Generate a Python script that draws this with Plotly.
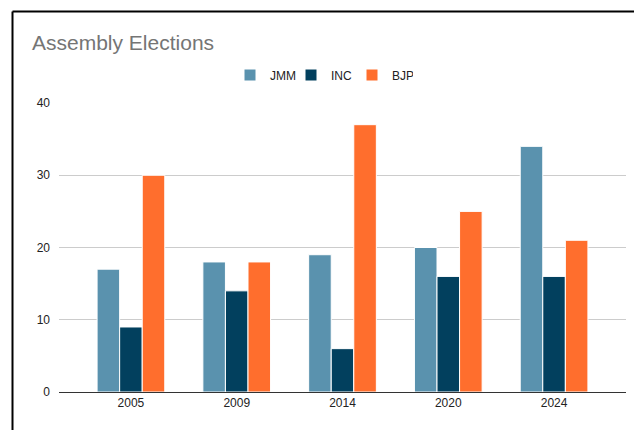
import plotly.graph_objects as go

years = ["2005", "2009", "2014", "2020", "2024"]
jmm = [17, 18, 19, 20, 34]
inc = [9, 14, 6, 16, 16]
bjp = [30, 18, 37, 25, 21]

W, H = 634, 430
L, R, T, B = 59, 8, 103, 38
pw, ph = W - L - R, H - T - B

def px_x(x):
    return (x - L) / pw

def px_y(y):
    return (H - B - y) / ph

font = "Liberation Sans, Arial, sans-serif"
fig = go.Figure()
for name, vals, col in [("JMM", jmm, "#5a92ae"), ("INC", inc, "#02405e"), ("BJP", bjp, "#ff6e2d")]:
    fig.add_trace(go.Bar(x=years, y=vals, name=name, marker=dict(color=col, line=dict(color="white", width=1))))

fig.update_layout(
    width=W, height=H,
    margin=dict(l=L, r=R, t=T, b=B),
    paper_bgcolor="white", plot_bgcolor="white",
    barmode="group", bargap=0.36, bargroupgap=0.0,
    font=dict(family=font, size=12, color="#222"),
    title=dict(text="Assembly Elections", x=32 / W, xanchor="left", xref="container",
               y=1 - 43 / H, yanchor="middle", yref="container",
               font=dict(size=21, color="#757575", family=font)),
    legend=dict(orientation="h", x=px_x(230), xanchor="left", y=px_y(75), yanchor="middle",
                font=dict(size=12, color="#222"), entrywidth=16, traceorder="normal"),
    xaxis=dict(range=[-0.68, 4.68], showline=True, linecolor="#333", linewidth=1,
               ticks="", showgrid=False, tickfont=dict(size=12, color="#222")),
    yaxis=dict(range=[0, 40], dtick=10, showgrid=True, gridcolor="#cccccc", zeroline=False,
               ticks="", tickfont=dict(size=12, color="#222"), ticklabelstandoff=8),
    shapes=[
        dict(type="line", xref="paper", yref="paper", x0=px_x(12.5), x1=px_x(645),
             y0=px_y(11.5), y1=px_y(11.5), line=dict(color="black", width=2)),
        dict(type="line", xref="paper", yref="paper", x0=px_x(12.5), x1=px_x(12.5),
             y0=px_y(11.5), y1=px_y(440), line=dict(color="black", width=2)),
    ],
)
fig.write_html("out.html")
